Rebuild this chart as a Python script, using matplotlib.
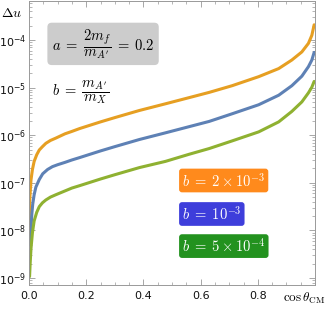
import matplotlib
matplotlib.use("Agg")
import matplotlib.pyplot as plt
import numpy as np
from matplotlib.ticker import FixedLocator, MultipleLocator, NullFormatter, LogFormatterMathtext

plt.rcParams['mathtext.fontset'] = 'cm'
plt.rcParams['font.family'] = ['DejaVu Sans']

# Series: cos(theta_CM) and log10(Delta u)
cos_orange = [0.0005, 0.001, 0.003, 0.007, 0.012, 0.018, 0.027, 0.036, 0.047, 0.059, 0.075, 0.094,
              0.126, 0.15, 0.177, 0.25, 0.3, 0.386, 0.477, 0.56, 0.63, 0.71, 0.803, 0.873,
              0.919, 0.954, 0.977, 0.989, 0.997]
log_orange = [-8.05, -7.75, -7.3, -6.94, -6.72, -6.55, -6.41, -6.31, -6.24, -6.17, -6.11, -6.06,
              -5.97, -5.92, -5.86, -5.72, -5.63, -5.48, -5.34, -5.21, -5.1, -4.96, -4.77, -4.6,
              -4.42, -4.25, -4.07, -3.9, -3.68]

cos_blue = [0.002, 0.004, 0.007, 0.01, 0.013, 0.018, 0.024, 0.036, 0.048, 0.065, 0.082, 0.1,
            0.126, 0.15, 0.177, 0.25, 0.3, 0.386, 0.477, 0.56, 0.63, 0.71, 0.803, 0.873,
            0.919, 0.954, 0.977, 0.989, 0.997]
log_blue = [-8.3, -8.15, -7.95, -7.65, -7.45, -7.25, -7.09, -6.93, -6.81, -6.72, -6.66, -6.62,
            -6.57, -6.52, -6.47, -6.33, -6.24, -6.09, -5.95, -5.82, -5.71, -5.55, -5.36, -5.16,
            -4.96, -4.76, -4.56, -4.42, -4.26]

cos_green = [0.002, 0.004, 0.007, 0.012, 0.018, 0.027, 0.036, 0.047, 0.059, 0.075, 0.094,
             0.126, 0.15, 0.177, 0.25, 0.3, 0.386, 0.477, 0.56, 0.63, 0.71, 0.803, 0.873,
             0.919, 0.954, 0.977, 0.989, 0.997]
log_green = [-8.97, -8.7, -8.38, -8.05, -7.8, -7.62, -7.5, -7.42, -7.36, -7.3, -7.25,
             -7.17, -7.11, -7.06, -6.92, -6.83, -6.68, -6.55, -6.4, -6.28, -6.12, -5.93, -5.72,
             -5.5, -5.3, -5.11, -4.99, -4.87]

x_ticks = [0.0, 0.2, 0.4, 0.6, 0.8]
x_ticklabels = ['0.0', '0.2', '0.4', '0.6', '0.8']
y_ticks = [1e-9, 1e-8, 1e-7, 1e-6, 1e-5, 1e-4]

labels = [r'$b = 2\times10^{-3}$', r'$b = 10^{-3}$', r'$b = 5\times10^{-4}$']
line_colors = ['#E69F22', '#5E81B5', '#8FB131']
box_colors = ['#FF8A1C', '#3E3EDB', '#23921F']

fig = plt.figure(figsize=(3.32, 3.10), dpi=100)
ax = fig.add_axes([29/332, 25/310, 286/332, 284/310])

for xs, ls, c in [(cos_orange, log_orange, line_colors[0]),
                  (cos_blue, log_blue, line_colors[1]),
                  (cos_green, log_green, line_colors[2])]:
    ax.plot(xs, 10**np.array(ls), color=c, lw=2.2, solid_capstyle='round')

ax.set_yscale('log')
ax.set_xlim(0, 1)
ax.set_ylim(10**-9.147, 10**-3.18)
ax.set_xticks(x_ticks)
ax.set_xticklabels(x_ticklabels)
ax.xaxis.set_minor_locator(MultipleLocator(0.05))
ax.yaxis.set_major_locator(FixedLocator(y_ticks))
ax.yaxis.set_major_formatter(LogFormatterMathtext())
minor_y = [m * 10.0**e for e in range(-10, -3) for m in range(2, 10)
           if 10**-9.147 < m * 10.0**e < 10**-3.18]
ax.yaxis.set_minor_locator(FixedLocator(minor_y))
ax.yaxis.set_minor_formatter(NullFormatter())

ax.tick_params(which='both', direction='in', top=True, right=True, color='#999999',
               labelsize=8, labelcolor='#111111')
ax.tick_params(which='major', length=4, width=0.6)
ax.tick_params(which='minor', length=2, width=0.5)
ax.tick_params(axis='x', pad=4)
ax.tick_params(axis='y', pad=2)
for s in ax.spines.values():
    s.set_color('#999999')
    s.set_linewidth(0.7)

fig.text(11.5/332, 1 - 13/310, r'$\Delta u$', fontsize=10, ha='center', va='center')
fig.text(304/332, 1 - 298/310, r'$\cos\theta_{\rm CM}$', fontsize=9.5, ha='center', va='center')

ax.text(0.259, 0.849, r"$a\;=\;\dfrac{2m_f}{m_{A'}}\;=\;0.2$", transform=ax.transAxes,
        fontsize=10.5, ha='center', va='center',
        bbox=dict(boxstyle='round,pad=0.3,rounding_size=0.3', fc='#CCCCCC', ec='none'))
ax.text(0.08, 0.68, r"$b\;=\;\dfrac{m_{A'}}{m_X}$", transform=ax.transAxes,
        fontsize=10.5, ha='left', va='center')

ys = [0.368, 0.25, 0.137]
labels_sp = [r'$b\;=\;2\times10^{-3}$', r'$b\;=\;10^{-3}$', r'$b\;=\;5\times10^{-4}$']
for lab, bc, yy in zip(labels_sp, box_colors, ys):
    ax.text(0.535, yy, lab, transform=ax.transAxes, fontsize=10.5, color='white',
            ha='left', va='center',
            bbox=dict(boxstyle='round,pad=0.2,rounding_size=0.2', fc=bc, ec='none'))

fig.savefig('out.png', dpi=100)
